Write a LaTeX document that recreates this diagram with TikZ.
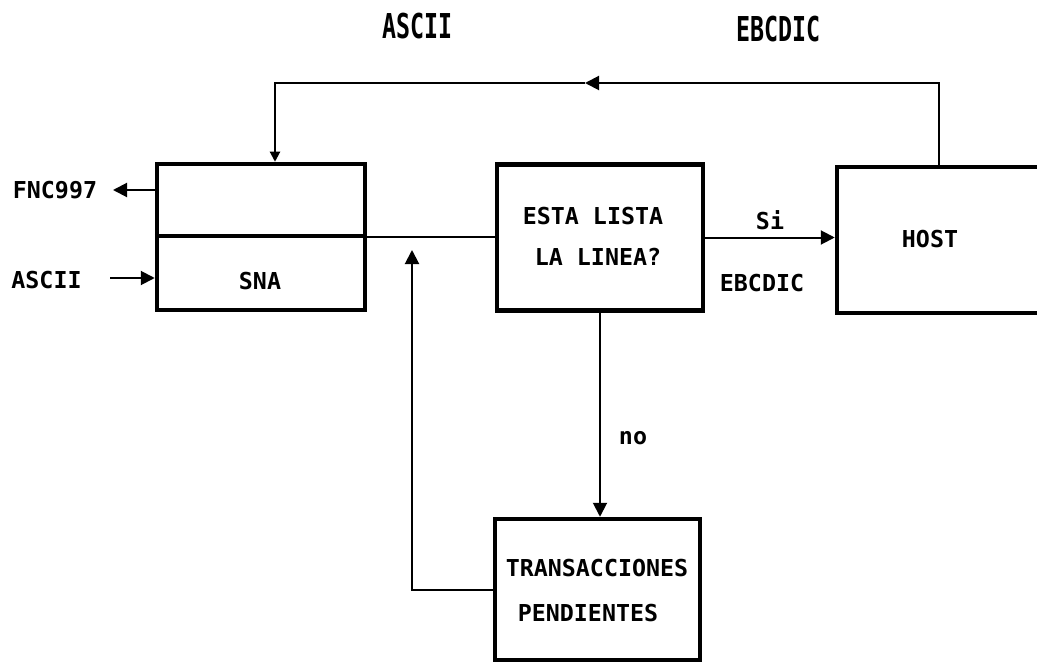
\documentclass[tikz,border=0pt]{standalone}
\usepackage{fontspec}
\usetikzlibrary{arrows.meta}
\newfontfamily\lblfont{DejaVu Sans Mono}
\begin{document}
\begin{tikzpicture}[x=1pt,y=-1pt,
  box/.style={draw=black, line width=4.5pt, fill=none, rectangle, inner sep=0pt},
  conn/.style={draw=black, line width=2pt},
  tip/.style={-{Triangle[length=14pt,width=14pt]}},
  lbl/.style={inner sep=0pt, font=\lblfont\bfseries\fontsize{23.3}{28}\selectfont},
]
\useasboundingbox (0,0) rectangle (1037,666);
\clip (0,0) rectangle (1037,666);

% blocks
\node[box, minimum width=208, minimum height=146] (sna)   at (261,237)   {};
\node[box, minimum width=206, minimum height=146] (esta)  at (600,237.5) {};
\node[box, minimum width=226, minimum height=146] (host)  at (950,240)   {};
\node[box, minimum width=205, minimum height=141] (trans) at (597.5,589.5) {};
\draw[line width=4.5pt] ([yshift=1pt]sna.west) -- ([yshift=1pt]sna.east);

% texts inside blocks
\node[lbl] (snat)   at (260,281)   {SNA};
\node[lbl] (esta1)  at (593,216)   {ESTA LISTA};
\node[lbl] (esta2)  at (598,257)   {LA LINEA?};
\node[lbl] (hostt)  at (930,239)   {HOST};
\node[lbl] (trans1) at (597,568)   {TRANSACCIONES};
\node[lbl] (trans2) at (588,613)   {PENDIENTES};

% outer labels
\node[lbl] (fnc)    at (55,190)    {FNC997};
\node[lbl] (ascl)   at (46.5,280)  {ASCII};
\node[lbl] (sit)    at (770,220)   {Si};
\node[lbl] (ebcm)   at (762,283)   {EBCDIC};
\node[lbl] (not)    at (633,438)   {no};
\node[lbl] (asct)   at (417.5,26)  {\scalebox{1}[1.47]{ASCII}};
\node[lbl] (ebct)   at (778.5,29.5){\scalebox{1}[1.47]{EBCDIC}};

% helper points
\coordinate (fncTip)  at (113,190);
\coordinate (ascTail) at (110,278);
\coordinate (topR)    at (939,83);
\coordinate (topM)    at (585,83);
\coordinate (topL)    at (275,83);
\coordinate (retTip)  at (412,250);

% connectors
\draw[conn, tip] (sna.west |- fncTip) -- (fncTip);
\draw[conn, tip] (ascTail) -- (sna.west |- ascTail);
\draw[conn] (sna.east) -- (esta.west |- sna.east);
\draw[conn, tip] (esta.east) -- (host.west |- esta.east);
\draw[conn, tip] (topR |- host.north) -- (topR) -- (topM);
\draw[conn, -{Triangle[length=10pt,width=10pt]}] (topM) -- (topL) -- (topL |- sna.north);
\draw[conn, tip] (esta.south) -- (esta.south |- trans.north);
\draw[conn, tip] (trans.west) -| (retTip);
\end{tikzpicture}
\end{document}
